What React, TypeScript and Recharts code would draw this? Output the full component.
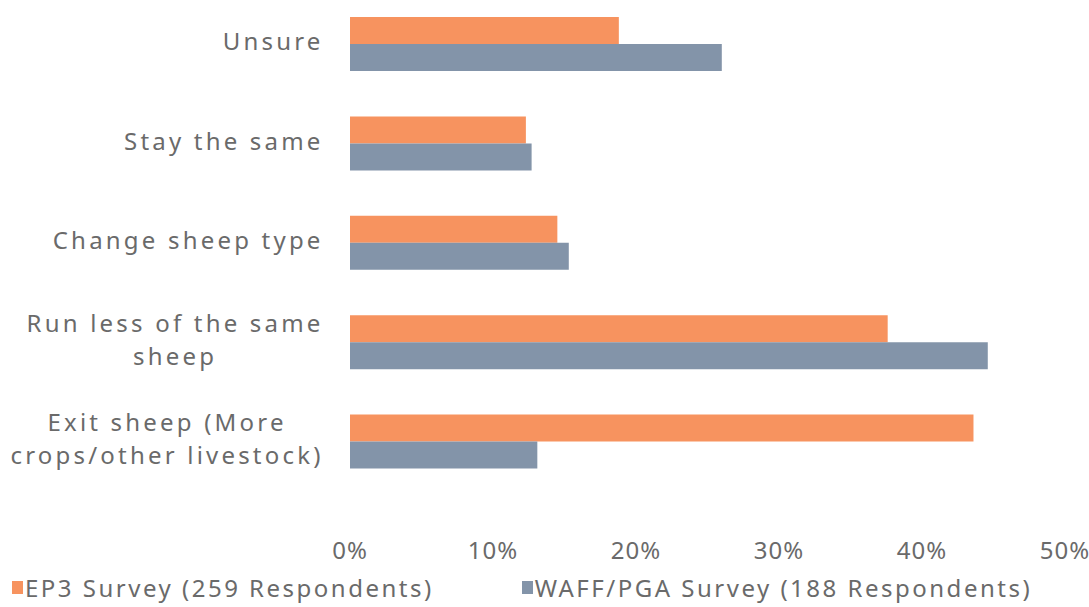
import React from "react"
import { BarChart, Bar, XAxis, YAxis } from "recharts"

const categories = [
  "Unsure",
  "Stay the same",
  "Change sheep type",
  "Run less of the same sheep",
  "Exit sheep (More crops/other livestock)",
]
const ep3Values = [0.188, 0.123, 0.145, 0.376, 0.436]
const waffValues = [0.26, 0.127, 0.153, 0.446, 0.131]
const xTicks = [0, 0.1, 0.2, 0.3, 0.4, 0.5]
const seriesNames = ["EP3 Survey (259 Respondents)", "WAFF/PGA Survey (188 Respondents)"]

// label wrapping as in the original
const labelLines: Record<string, string[]> = {
  "Run less of the same sheep": ["Run less of the same", "sheep"],
  "Exit sheep (More crops/other livestock)": ["Exit sheep (More", "crops/other livestock)"],
}

const FONT = "'Noto Sans', sans-serif"
const FONT_SIZE = 24
const LABEL_SPACING = 3.2
const TEXT = "#6a6a6a"
const ORANGE = "#F7935F"
const BLUE = "#8394A9"

const data = categories.map((c, i) => ({ name: c, ep3: ep3Values[i], waff: waffValues[i] }))

let ctx: CanvasRenderingContext2D | null = null
function measure(s: string) {
  if (!ctx) ctx = document.createElement("canvas").getContext("2d")
  if (!ctx) return s.length * 14
  ctx.font = `${FONT_SIZE}px 'Noto Sans'`
  return ctx.measureText(s).width + s.length * LABEL_SPACING
}

function CategoryTick(props: any) {
  const { x, y, payload } = props
  const lines = labelLines[payload.value] || [payload.value]
  const w = Math.max(...lines.map(measure))
  const cx = x - w / 2 + LABEL_SPACING / 2
  const lh = 33
  const y0 = y - ((lines.length - 1) * lh) / 2 - 2
  return (
    <text textAnchor="middle" fill={TEXT} fontSize={FONT_SIZE} fontFamily={FONT} letterSpacing={LABEL_SPACING}>
      {lines.map((l, i) => (
        <tspan key={i} x={cx} y={y0 + i * lh} dy="0.35em">
          {l}
        </tspan>
      ))}
    </text>
  )
}

export default function App() {
  return (
    <div style={{ position: "absolute", left: 0, top: 0, width: 1089, height: 607, background: "#fff" }}>
      <BarChart
        width={1089}
        height={570}
        data={data}
        layout="vertical"
        margin={{ top: -6, right: 24, bottom: 0, left: 0 }}
        barGap={0}
        barSize={27}
      >
        <XAxis
          type="number"
          domain={[0, 0.5]}
          ticks={xTicks}
          tickFormatter={(v: number) => `${Math.round(v * 100)}%`}
          axisLine={false}
          tickLine={false}
          tickSize={0}
          tickMargin={51}
          height={79}
          interval={0}
          tick={{ fill: TEXT, fontSize: FONT_SIZE, fontFamily: FONT, letterSpacing: 1 }}
        />
        <YAxis
          type="category"
          dataKey="name"
          width={350}
          axisLine={false}
          tickLine={false}
          tickSize={0}
          tickMargin={28}
          interval={0}
          tick={<CategoryTick />}
        />
        <Bar dataKey="ep3" name={seriesNames[0]} fill={ORANGE} isAnimationActive={false} />
        <Bar dataKey="waff" name={seriesNames[1]} fill={BLUE} isAnimationActive={false} />
      </BarChart>
      <div
        style={{
          position: "absolute",
          top: 571,
          left: 12,
          display: "flex",
          fontFamily: FONT,
          fontSize: FONT_SIZE,
          color: TEXT,
          letterSpacing: 2.5,
          whiteSpace: "nowrap",
        }}
      >
        {seriesNames.map((n, i) => (
          <div key={n} style={{ display: "flex", alignItems: "center", marginRight: i === 0 ? 88 : 0 }}>
            <span style={{ width: 11, height: 13, background: i === 0 ? ORANGE : BLUE, marginRight: 2 }} />
            {n}
          </div>
        ))}
      </div>
    </div>
  )
}
